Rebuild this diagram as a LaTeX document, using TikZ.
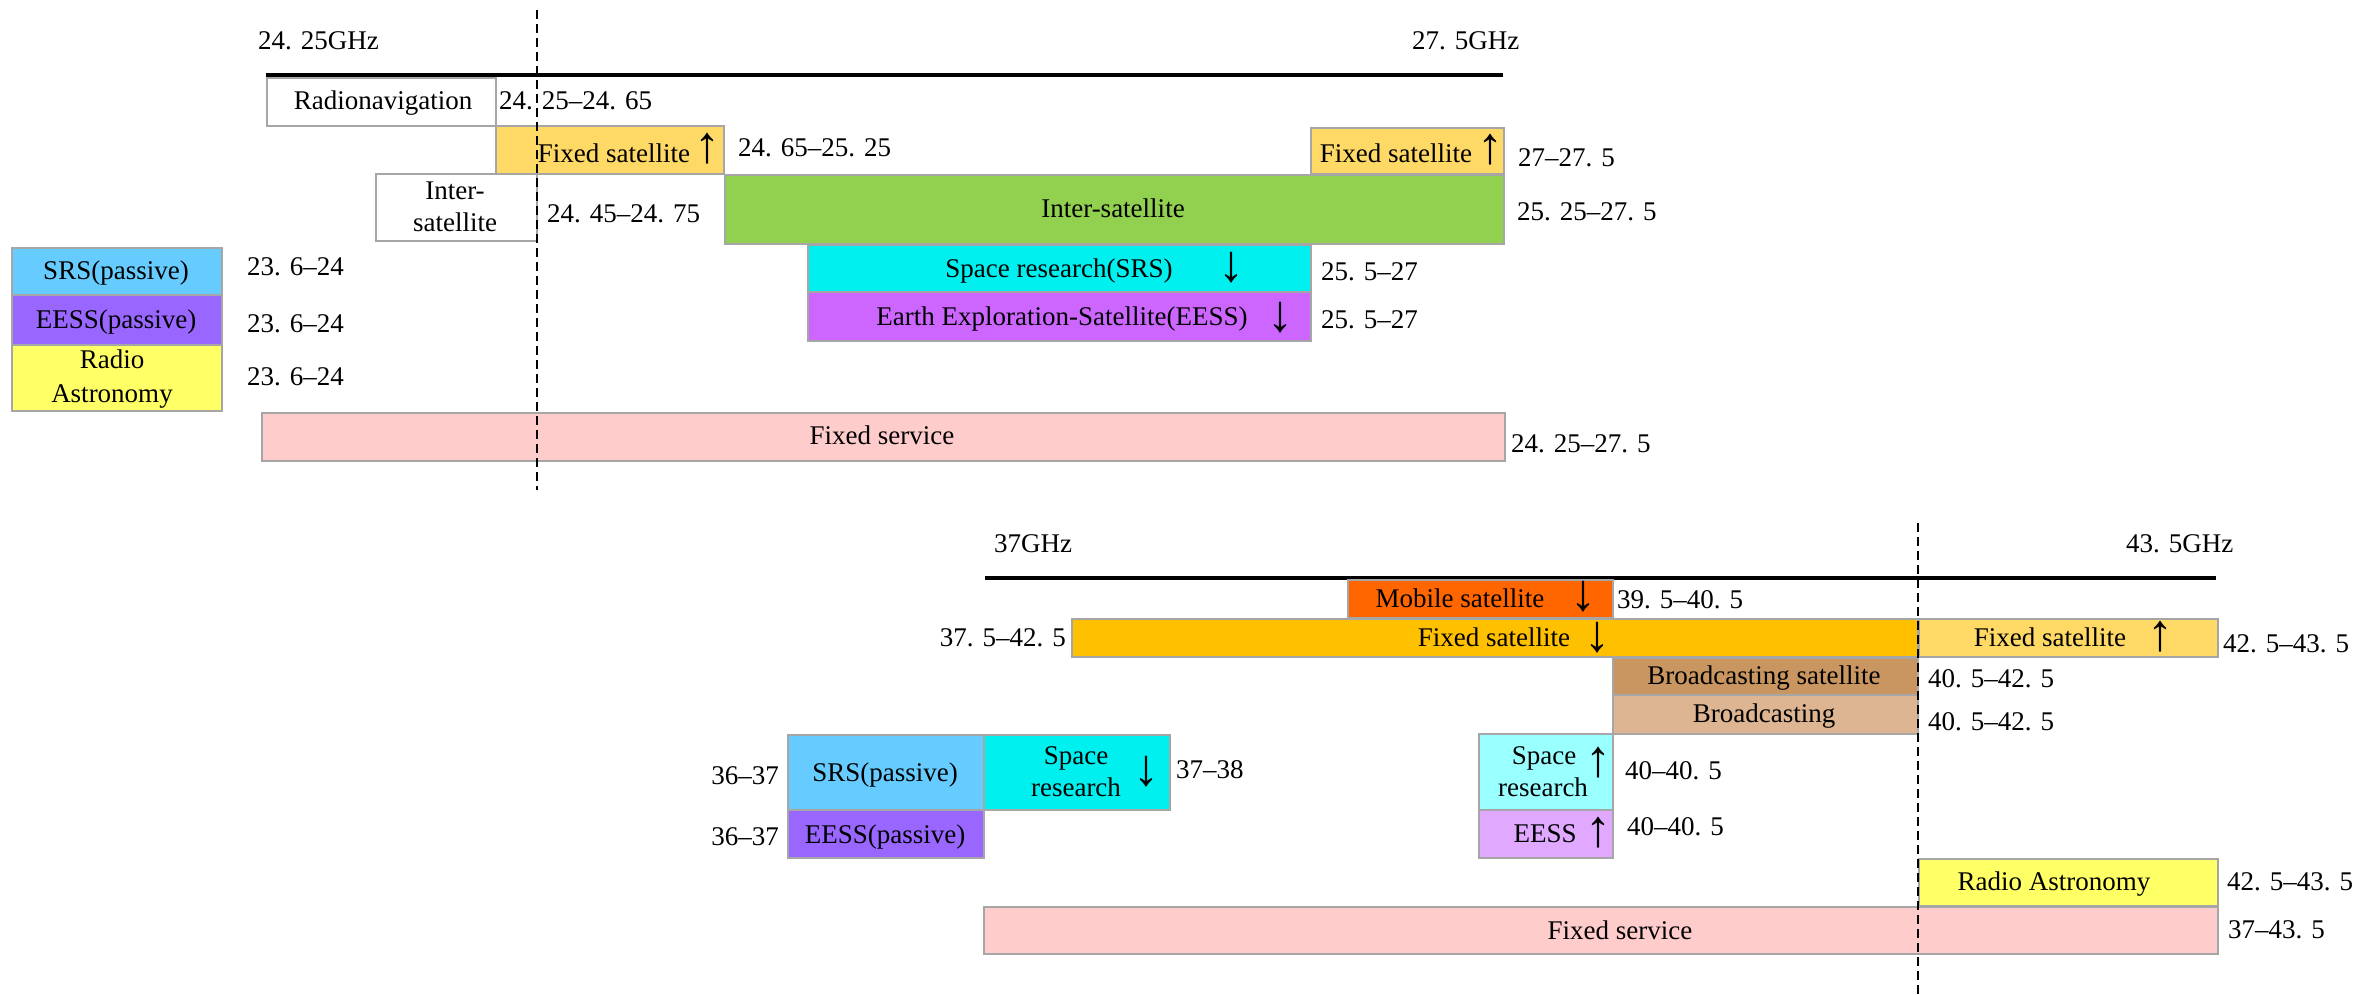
\documentclass[tikz,border=0pt]{standalone}
\usepackage{fontspec}
\setmainfont{Liberation Serif}
\definecolor{bandedge}{HTML}{A6A6A6}
\definecolor{fsup}{HTML}{FFD966}
\definecolor{fsdown}{HTML}{FFC000}
\definecolor{isl}{HTML}{92D050}
\definecolor{srs}{HTML}{00F0F0}
\definecolor{srslight}{HTML}{99FFFF}
\definecolor{eess}{HTML}{CC66FF}
\definecolor{eesslight}{HTML}{E0A8FF}
\definecolor{srspass}{HTML}{66CCFF}
\definecolor{eesspass}{HTML}{9966FF}
\definecolor{radioastro}{HTML}{FFFF66}
\definecolor{fixedsvc}{HTML}{FFCCCC}
\definecolor{mobsat}{HTML}{FF6600}
\definecolor{bcsat}{HTML}{C99560}
\definecolor{bcast}{HTML}{DEB592}
\begin{document}
\begin{tikzpicture}[x=1pt,y=-1pt,
  band/.style={draw=bandedge, line width=1.5pt, inner sep=0pt, anchor=north west},
  txt/.style={inner sep=0pt, text height=0.68em, text depth=0pt, yshift=-6pt, font=\fontsize{27}{32}\selectfont},
  lbl/.style={txt, anchor=west},
  lblr/.style={txt, anchor=east},
  arr/.style={inner sep=0pt, font=\fontsize{52}{52}\selectfont},
  axisline/.style={line width=4pt},
  marker/.style={line width=1.5pt, dash pattern=on 9pt off 5pt}]
\useasboundingbox (0,0) rectangle (2372,994);

% ---------- 24.25 -- 27.5 GHz ----------
\node[lbl] (t1lo) at (258,40) {24. 25GHz};
\node[lbl] (t1hi) at (1412,40) {27. 5GHz};
\coordinate (ax1a) at (266,75);
\coordinate (ax1b) at (1503,75);
\draw[axisline] (ax1a) -- (ax1b);

\node[band, fill=white, minimum width=229pt, minimum height=48pt] (radnav) at (266,77) {};
\node[txt] (radnavT) at (383,100) {Radionavigation};
\node[lbl] (radnavL) at (499,100) {24. 25–24. 65};

\node[band, fill=fsup, minimum width=228pt, minimum height=48pt] (fs1) at (495,125) {};
\node[txt] (fs1T) at (614,153) {Fixed satellite};
\node[arr] (fs1A) at (707,149) {↑};
\node[lbl] (fs1L) at (738,147) {24. 65–25. 25};

\node[band, fill=fsup, minimum width=193pt, minimum height=46pt] (fs2) at (1310,127) {};
\node[txt] (fs2T) at (1396,153) {Fixed satellite};
\node[arr] (fs2A) at (1490,150) {↑};
\node[lbl] (fs2L) at (1518,157) {27–27. 5};

\node[band, fill=white, minimum width=161pt, minimum height=67pt] (isw) at (375,173) {};
\node[txt] (iswT1) at (455,190) {Inter-};
\node[txt] (iswT2) at (455,222) {satellite};
\node[lbl] (iswL) at (547,213) {24. 45–24. 75};

\node[band, fill=isl, minimum width=779pt, minimum height=69pt] (isg) at (724,174) {};
\node[txt] (isgT) at (1113,208) {Inter-satellite};
\node[lbl] (isgL) at (1517,211) {25. 25–27. 5};

\node[band, fill=srs, minimum width=503pt, minimum height=47pt] (srsb) at (807,244) {};
\node[txt] (srsbT) at (1059,268) {Space research(SRS)};
\node[arr] (srsbA) at (1231,268) {↓};
\node[lbl] (srsbL) at (1321,271) {25. 5–27};

\node[band, fill=eess, minimum width=503pt, minimum height=49pt] (eessb) at (807,291) {};
\node[txt] (eessbT) at (1062,316) {Earth Exploration-Satellite(EESS)};
\node[arr] (eessbA) at (1280,318) {↓};
\node[lbl] (eessbL) at (1321,319) {25. 5–27};

\node[band, fill=srspass, minimum width=210pt, minimum height=47pt] (srsp1) at (11,247) {};
\node[txt] (srsp1T) at (116,270) {SRS(passive)};
\node[lbl] (srsp1L) at (247,266) {23. 6–24};

\node[band, fill=eesspass, minimum width=210pt, minimum height=50pt] (eessp1) at (11,294) {};
\node[txt] (eessp1T) at (116,319) {EESS(passive)};
\node[lbl] (eessp1L) at (247,323) {23. 6–24};

\node[band, fill=radioastro, minimum width=210pt, minimum height=66pt] (ra1) at (11,344) {};
\node[txt] (ra1T1) at (112,359) {Radio};
\node[txt] (ra1T2) at (112,393) {Astronomy};
\node[lbl] (ra1L) at (247,376) {23. 6–24};

\node[band, fill=fixedsvc, minimum width=1243pt, minimum height=48pt] (fsv1) at (261,412) {};
\node[txt] (fsv1T) at (882,435) {Fixed service};
\node[lbl] (fsv1L) at (1511,443) {24. 25–27. 5};

\coordinate (mk1a) at (537,10);
\coordinate (mk1b) at (537,490);
\draw[marker] (mk1a) -- (mk1b);

% ---------- 37 -- 43.5 GHz ----------
\node[lbl] (t2lo) at (994,543) {37GHz};
\node[lbl] (t2hi) at (2126,543) {43. 5GHz};
\coordinate (ax2a) at (985,578);
\coordinate (ax2b) at (2216,578);
\draw[axisline] (ax2a) -- (ax2b);

\node[band, fill=mobsat, minimum width=265pt, minimum height=38pt] (mob) at (1347,579) {};
\node[txt] (mobT) at (1460,598) {Mobile satellite};
\node[arr] (mobA) at (1583,597) {↓};
\node[lbl] (mobL) at (1617,599) {39. 5–40. 5};

\node[band, fill=fsdown, minimum width=846pt, minimum height=38pt] (fsd) at (1071,618) {};
\node[txt] (fsdT) at (1494,637) {Fixed satellite};
\node[arr] (fsdA) at (1597,638) {↓};
\node[lblr] (fsdL) at (1066,637) {37. 5–42. 5};

\node[band, fill=fsup, minimum width=299pt, minimum height=38pt] (fsu) at (1918,618) {};
\node[txt] (fsuT) at (2050,637) {Fixed satellite};
\node[arr] (fsuA) at (2160,637) {↑};
\node[lbl] (fsuL) at (2223,643) {42. 5–43. 5};

\node[band, fill=bcsat, minimum width=305pt, minimum height=37pt] (bsat) at (1612,657) {};
\node[txt] (bsatT) at (1764,675) {Broadcasting satellite};
\node[lbl] (bsatL) at (1928,678) {40. 5–42. 5};

\node[band, fill=bcast, minimum width=305pt, minimum height=39pt] (bc) at (1612,694) {};
\node[txt] (bcT) at (1764,713) {Broadcasting};
\node[lbl] (bcL) at (1928,721) {40. 5–42. 5};

\node[band, fill=srspass, minimum width=196pt, minimum height=75pt] (srsp2) at (787,734) {};
\node[txt] (srsp2T) at (885,772) {SRS(passive)};
\node[lblr] (srsp2L) at (779,775) {36–37};

\node[band, fill=srs, minimum width=186pt, minimum height=75pt] (sr2) at (983,734) {};
\node[txt] (sr2T1) at (1076,755) {Space};
\node[txt] (sr2T2) at (1076,787) {research};
\node[arr] (sr2A) at (1146,772) {↓};
\node[lbl] (sr2L) at (1176,769) {37–38};

\node[band, fill=eesspass, minimum width=196pt, minimum height=48pt] (eessp2) at (787,809) {};
\node[txt] (eessp2T) at (885,834) {EESS(passive)};
\node[lblr] (eessp2L) at (779,836) {36–37};

\node[band, fill=srslight, minimum width=134pt, minimum height=76pt] (sru) at (1478,733) {};
\node[txt] (suT1) at (1544,755) {Space};
\node[txt] (suT2) at (1543,787) {research};
\node[arr] (suA) at (1598,763) {↑};
\node[lbl] (suL) at (1625,770) {40–40. 5};

\node[band, fill=eesslight, minimum width=134pt, minimum height=48pt] (eu) at (1478,809) {};
\node[txt] (euT) at (1545,833) {EESS};
\node[arr] (euA) at (1598,833) {↑};
\node[lbl] (euL) at (1627,826) {40–40. 5};

\node[band, fill=radioastro, minimum width=299pt, minimum height=47pt] (ra2) at (1918,858) {};
\node[txt] (ra2T) at (2054,881) {Radio Astronomy};
\node[lbl] (ra2L) at (2227,881) {42. 5–43. 5};

\node[band, fill=fixedsvc, minimum width=1234pt, minimum height=47pt] (fsv2) at (983,906) {};
\node[txt] (fsv2T) at (1620,930) {Fixed service};
\node[lbl] (fsv2L) at (2228,929) {37–43. 5};

\coordinate (mk2a) at (1918,523);
\coordinate (mk2b) at (1918,994);
\draw[marker] (mk2a) -- (mk2b);
\end{tikzpicture}
\end{document}
